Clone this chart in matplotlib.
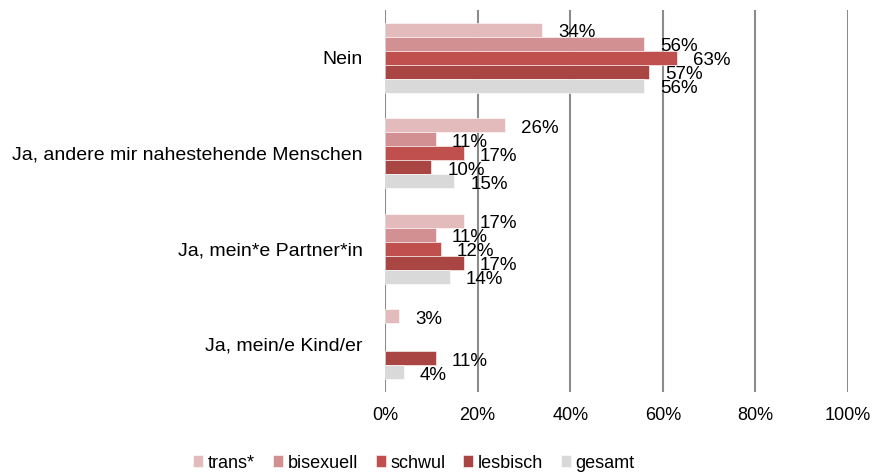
import matplotlib
matplotlib.use("Agg")
import matplotlib.pyplot as plt
import numpy as np

plt.rcParams['font.family'] = ['Liberation Sans', 'DejaVu Sans']

categories = ["Nein", "Ja, andere mir nahestehende Menschen", "Ja, mein*e Partner*in", "Ja, mein/e Kind/er"]
series = ["trans*", "bisexuell", "schwul", "lesbisch", "gesamt"]
trans = [34, 26, 17, 3]
bisexuell = [56, 11, 11, None]
schwul = [63, 17, 12, None]
lesbisch = [57, 10, 17, 11]
gesamt = [56, 15, 14, 4]
values = [trans, bisexuell, schwul, lesbisch, gesamt]
colors = ["#E3BBBD", "#D39092", "#C0504D", "#A94644", "#D9D9D9"]
xticks = [0, 20, 40, 60, 80, 100]
xticklabels = ["0%", "20%", "40%", "60%", "80%", "100%"]

fig = plt.figure(figsize=(8.74, 4.74), dpi=100)
ax = fig.add_axes([385/874, 1-392/474, (848-385)/874, 382/474])

h = 0.147
y = np.arange(len(categories))
for i, (name, vals, c) in enumerate(zip(series, values, colors)):
    off = (i - 2) * h
    ys = [yy + off for yy, v in zip(y, vals) if v is not None]
    vs = [v for v in vals if v is not None]
    ax.barh(ys, vs, height=h, color=c, label=name, edgecolor='white', linewidth=0.4, zorder=3)
    for yy, v in zip(ys, vs):
        ax.annotate(f"{v}%", (v, yy), xytext=(16, -3), textcoords='offset pixels',
                    ha='left', va='center', fontsize=13.5, color='black', zorder=4)

ax.set_xlim(0, 100)
ax.set_ylim(3.5, -0.5)
ax.set_xticks(xticks)
ax.set_xticklabels(xticklabels, fontsize=13)
ax.set_yticks(y)
ax.set_yticklabels(categories, fontsize=14)
ax.tick_params(axis='both', length=0)
ax.tick_params(axis='x', pad=11)
ax.tick_params(axis='y', pad=16)
for s in ax.spines.values():
    s.set_visible(False)
ax.grid(axis='x', color='#8C8C8C', linewidth=1.5, zorder=0)
ax.set_axisbelow(True)

fig.legend(loc='center', bbox_to_anchor=(414/874, 1-463/474), ncol=5, frameon=False,
           prop={'size': 13}, handlelength=0.55, handleheight=0.6,
           handletextpad=0.25, columnspacing=1.0)

fig.savefig("out.png", dpi=100)
